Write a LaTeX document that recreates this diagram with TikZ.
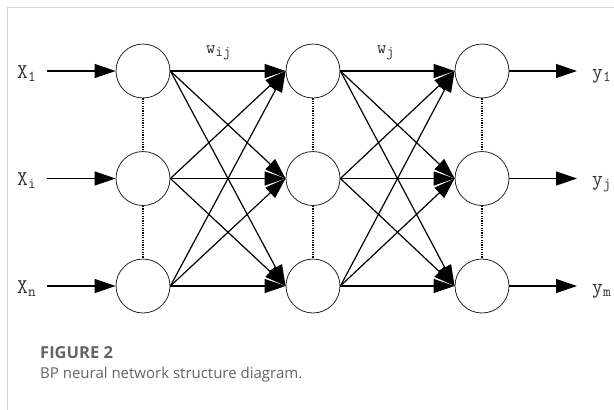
\documentclass[tikz,border=0pt]{standalone}
\usepackage{fontspec}
\setsansfont{Open Sans}
\usetikzlibrary{arrows.meta}
\definecolor{framegray}{RGB}{210,210,210}
\definecolor{capgray}{RGB}{100,100,100}
\newcommand{\nsub}[2]{#1\raisebox{-3pt}{\fontsize{15}{15}\selectfont #2}}
\tikzset{
  neuron/.style={draw=black!85, circle, minimum size=54pt, inner sep=0pt, line width=0.8pt},
  link/.style={-{Triangle[length=21pt,width=14pt]}, line width=1.2pt},
  dotline/.style={dash pattern=on 1.2pt off 1.2pt, line width=1.4pt},
  lbl/.style={font=\fontsize{21}{21}\ttfamily, text=black!80, inner sep=0pt},
  wlbl/.style={font=\fontsize{18}{18}\ttfamily, text=black!80, inner sep=0pt}
}

\begin{document}
\begin{tikzpicture}[x=1pt,y=1pt,yscale=-1,xscale=1]
\useasboundingbox (0,0) rectangle (614,410);

%Straight Lines: frame
\draw [framegray, line width=1pt] (7.3,410) -- (7.3,7.3) -- (614,7.3) ;

%Shape: Circle (input layer)
\node [neuron] (in1) at (143,71) {};
\node [neuron] (in2) at (143,178.5) {};
\node [neuron] (in3) at (143,286) {};
%Shape: Circle (hidden layer)
\node [neuron] (hd1) at (313,71) {};
\node [neuron] (hd2) at (313,178.5) {};
\node [neuron] (hd3) at (313,286) {};
%Shape: Circle (output layer)
\node [neuron] (out1) at (482,71) {};
\node [neuron] (out2) at (482,178.5) {};
\node [neuron] (out3) at (482,286) {};

%Text labels
\node [lbl, anchor=base west] (x1) at (17,78) {\nsub{X}{1}};
\node [lbl, anchor=base west] (xi) at (17,185.5) {\nsub{X}{i}};
\node [lbl, anchor=base west] (xn) at (17,293) {\nsub{X}{n}};
\node [lbl, anchor=base west] (y1) at (592,78) {\nsub{y}{1}};
\node [lbl, anchor=base west] (yj) at (592,185.5) {\nsub{y}{j}};
\node [lbl, anchor=base west] (ym) at (592,293) {\nsub{y}{m}};
\node [wlbl, anchor=base west] (wij) at (206,53) {\nsub{w}{ij}};
\node [wlbl, anchor=base west] (wj) at (377,53) {\nsub{w}{j}};

%Free ends of the input and output arrows
\coordinate (s1) at (47,71);
\coordinate (s2) at (47,178.5);
\coordinate (s3) at (47,286);
\coordinate (e1) at (577,71);
\coordinate (e2) at (577,178.5);
\coordinate (e3) at (577,286);

%Straight Lines: inputs and outputs
\draw [link] (s1) -- (in1) ;
\draw [link] (s2) -- (in2) ;
\draw [link] (s3) -- (in3) ;
\draw [link] (out1) -- (e1) ;
\draw [link] (out2) -- (e2) ;
\draw [link] (out3) -- (e3) ;

%Straight Lines: dotted columns
\draw [dotline] (in1.south) -- (in2.north) ;
\draw [dotline] (in2.south) -- (in3.north) ;
\draw [dotline] (hd1.south) -- (hd2.north) ;
\draw [dotline] (hd2.south) -- (hd3.north) ;
\draw [dotline] (out1.south) -- (out2.north) ;
\draw [dotline] (out2.south) -- (out3.north) ;

%Straight Lines: input -> hidden
\draw [link] (in1.east) -- (hd1.west) ;
\draw [link] (in1.east) -- (hd2.west) ;
\draw [link] (in1.east) -- (hd3.west) ;
\draw [link] (in2.east) -- (hd1.west) ;
\draw [link] (in2.east) -- (hd2.west) ;
\draw [link] (in2.east) -- (hd3.west) ;
\draw [link] (in3.east) -- (hd1.west) ;
\draw [link] (in3.east) -- (hd2.west) ;
\draw [link] (in3.east) -- (hd3.west) ;
%Straight Lines: hidden -> output
\draw [link] (hd1.east) -- (out1.west) ;
\draw [link] (hd1.east) -- (out2.west) ;
\draw [link] (hd1.east) -- (out3.west) ;
\draw [link] (hd2.east) -- (out1.west) ;
\draw [link] (hd2.east) -- (out2.west) ;
\draw [link] (hd2.east) -- (out3.west) ;
\draw [link] (hd3.east) -- (out1.west) ;
\draw [link] (hd3.east) -- (out2.west) ;
\draw [link] (hd3.east) -- (out3.west) ;

%Caption
\node [anchor=base west, inner sep=0pt, font=\sffamily\bfseries\fontsize{16.5}{16.5}\selectfont, text=capgray] (fig) at (40,358) {FIGURE 2};
\node [anchor=base west, inner sep=0pt, font=\sffamily\fontsize{15}{15}\selectfont, text=capgray] (cap) at (40,378) {BP neural network structure diagram.};

\end{tikzpicture}
\end{document}
